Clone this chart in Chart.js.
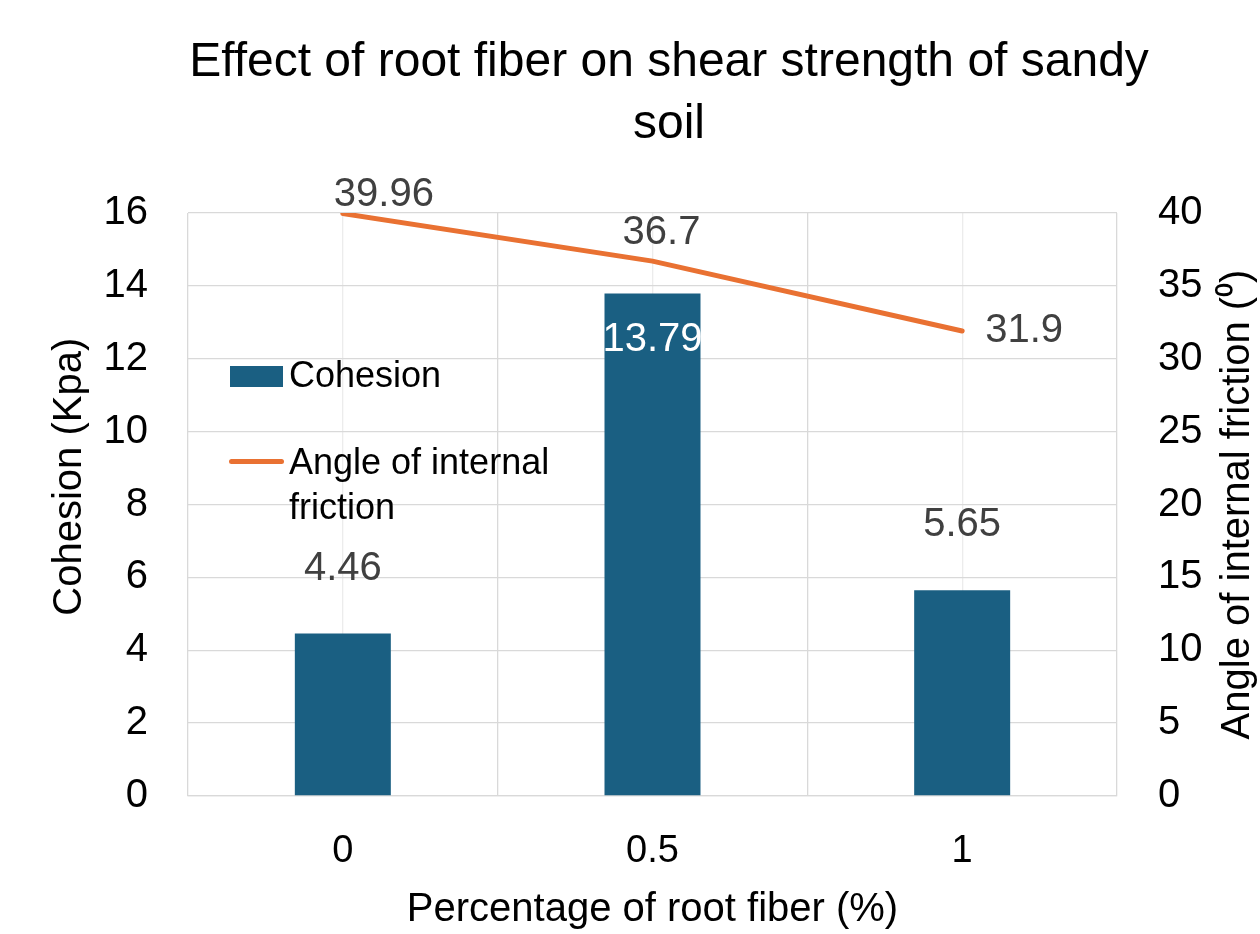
<!DOCTYPE html>
<html>
<head>
<meta charset="utf-8">
<script src="https://cdn.jsdelivr.net/npm/chart.js@4.4.1/dist/chart.umd.min.js"></script>
<style>
  body { margin: 0; background: #fff; }
  #wrap { position: relative; width: 1260px; height: 934px; }
  .legend { position: absolute; left: 229px; top: 352px; font-family: "Liberation Sans", Arial, sans-serif; font-size: 36px; color: #000; line-height: 45px; }
  .legend .row { position: relative; padding-left: 60px; }
  .legend .box { position: absolute; left: 1px; top: 14px; width: 53px; height: 21px; background: #1a5f82; }
  .legend .line { position: absolute; left: 0; top: 20px; width: 55px; height: 5px; border-radius: 3px; background: #e97132; }
</style>
</head>
<body>
<div id="wrap">
  <canvas id="c" width="1260" height="934"></canvas>
  <div class="legend">
    <div class="row" style="margin-bottom:42px"><span class="box"></span>Cohesion</div>
    <div class="row"><span class="line"></span>Angle of internal<br>friction</div>
  </div>
</div>
<script>
const categories = ['0', '0.5', '1'];
const cohesion = [4.46, 13.79, 5.65];
const friction = [39.96, 36.7, 31.9];
const leftTicks = { min: 0, max: 16, step: 2 };
const rightTicks = { min: 0, max: 40, step: 5 };

const chartTitle = ['Effect of root fiber on shear strength of sandy', 'soil'];
const rightTitle = 'Angle of internal friction (\u2070)';

const FONT = '"Liberation Sans", Arial, sans-serif';

// where each value label sits, relative to its bar top / line point
const labelSpots = [
  [{ dx: 41, dy: -19 }, { dx: 9, dy: -28 }, { dx: 62, dy: 0 }],
  [{ dx: 0, dy: -65 }, { dx: 0, dy: 46, color: '#fff' }, { dx: 0, dy: -65 }]
];

const extraText = {
  id: 'extraText',
  afterDraw(chart) {
    const ctx = chart.ctx;
    ctx.save();
    ctx.fillStyle = '#000';
    ctx.textAlign = 'center';
    ctx.textBaseline = 'middle';
    // chart title, a bit right of centre like the original
    ctx.font = '48px ' + FONT;
    chartTitle.forEach((line, i) => ctx.fillText(line, 669, 63 + i * 62));
    // right axis title reads bottom-to-top
    ctx.font = '40px ' + FONT;
    ctx.translate(1238, (chart.chartArea.top + chart.chartArea.bottom) / 2);
    ctx.rotate(-Math.PI / 2);
    ctx.fillText(rightTitle, 0, 0);
    ctx.restore();
  },
  afterDatasetsDraw(chart) {
    const ctx = chart.ctx;
    ctx.save();
    ctx.font = '40px ' + FONT;
    ctx.textAlign = 'center';
    ctx.textBaseline = 'middle';
    chart.data.datasets.forEach((ds, i) => {
      chart.getDatasetMeta(i).data.forEach((el, j) => {
        const spot = labelSpots[i][j];
        ctx.fillStyle = spot.color || '#404040';
        ctx.fillText(String(ds.data[j]), el.x + spot.dx, el.y + spot.dy);
      });
    });
    ctx.restore();
  }
};

new Chart(document.getElementById('c'), {
  data: {
    labels: categories,
    datasets: [
      {
        type: 'line',
        label: 'Angle of internal friction',
        data: friction,
        yAxisID: 'y1',
        borderColor: '#e97132',
        borderWidth: 5,
        pointRadius: 0,
        borderCapStyle: 'round',
        tension: 0
      },
      {
        type: 'bar',
        label: 'Cohesion',
        data: cohesion,
        yAxisID: 'y',
        backgroundColor: '#1a5f82',
        barPercentage: 0.62,
        categoryPercentage: 0.5
      }
    ]
  },
  options: {
    responsive: false,
    animation: false,
    layout: { padding: { top: 213 } },
    plugins: {
      legend: { display: false },
      tooltip: { enabled: false },
      title: { display: false }
    },
    scales: {
      x: {
        type: 'category',
        position: 'bottom',
        offset: true,
        grid: { offset: true, color: '#d9d9d9', lineWidth: 1.3, drawTicks: false },
        border: { color: '#d9d9d9', width: 1.3 },
        ticks: { color: '#000', padding: 33, font: { family: FONT, size: 38 } },
        title: {
          display: true,
          text: 'Percentage of root fiber (%)',
          color: '#000',
          font: { family: FONT, size: 40 },
          padding: { bottom: 0 }
        },
        afterFit: s => { s.height = 138; }
      },
      x2: {
        type: 'category',
        position: 'bottom',
        offset: true,
        grid: { offset: false, color: '#ececec', lineWidth: 1.3, drawTicks: false },
        border: { display: false },
        ticks: { display: false },
        afterFit: s => { s.height = 0; }
      },
      y: {
        position: 'left',
        min: leftTicks.min,
        max: leftTicks.max,
        grid: { color: '#d9d9d9', lineWidth: 1.3, drawTicks: false },
        border: { display: false },
        ticks: { stepSize: leftTicks.step, color: '#000', padding: 40, font: { family: FONT, size: 40 } },
        title: {
          display: true,
          text: '\u00a0\u00a0\u00a0\u00a0\u00a0Cohesion (Kpa)',
          color: '#000',
          font: { family: FONT, size: 40 },
          padding: { top: 46 }
        },
        afterFit: s => { s.width = 188; }
      },
      y1: {
        position: 'right',
        min: rightTicks.min,
        max: rightTicks.max,
        grid: { display: false, drawTicks: false },
        border: { display: false },
        ticks: { stepSize: rightTicks.step, color: '#000', padding: 41, font: { family: FONT, size: 40 } },
        title: { display: false },
        afterFit: s => { s.width = 143; }
      }
    }
  },
  plugins: [extraText]
});
</script>
</body>
</html>
